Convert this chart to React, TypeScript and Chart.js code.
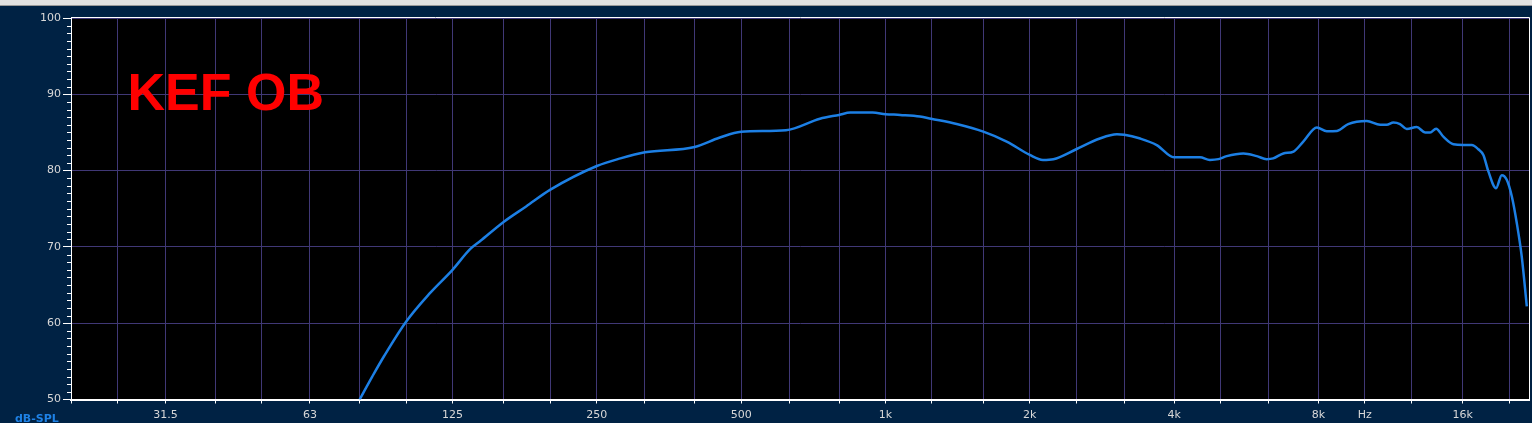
import React, { useEffect, useRef } from 'react';
import { Chart, registerables } from 'chart.js';

Chart.register(...registerables);

// Frequency response (Hz) and level (dB-SPL)
const FREQS = [
  80, 85, 90, 100, 112, 125, 136, 143, 160, 178, 200, 250, 280, 315, 400, 450, 500, 620, 730, 800,
  845, 940, 1000, 1073, 1180, 1245, 1408, 1600, 1790, 2000, 2130, 2240, 2500, 2800, 3040, 3150,
  3400, 3680, 4000, 4530, 4750, 4950, 5150, 5580, 5950, 6240, 6440, 6760, 7100, 7440, 7940,
  8330, 8750, 9230, 10090, 10760, 11110, 11470, 11840, 12230, 12830, 13360, 13680, 14080,
  14580, 15300, 16050, 16710, 17250, 17670, 18100, 18780, 19300, 19770, 20260, 20750, 21250, 21770,
];
const SPL = [
  50.0, 53.0, 55.7, 60.2, 63.9, 67.0, 69.7, 70.8, 73.3, 75.3, 77.5, 80.6, 81.6, 82.4, 83.1, 84.3, 85.1, 85.3, 86.8, 87.3,
  87.6, 87.6, 87.4, 87.3, 87.1, 86.8, 86.1, 85.1, 83.8, 82.05, 81.4, 81.5, 82.8, 84.2, 84.75, 84.7,
  84.2, 83.35, 81.75, 81.75, 81.4, 81.5, 81.9, 82.25, 81.9, 81.5, 81.6, 82.25, 82.5, 83.8, 85.65,
  85.15, 85.2, 86.1, 86.5, 86.0, 86.0, 86.3, 86.1, 85.45, 85.7, 85.0, 85.0, 85.5,
  84.45, 83.45, 83.35, 83.35, 82.8, 82.05, 79.9, 77.7, 79.4, 78.8, 76.6, 73.1, 68.7, 62.2,
];

// Axis definitions
const X_MIN = 20;
const X_MAX = 22000;
const X_GRID = [
  20, 25, 31.5, 40, 50, 63, 80, 100, 125, 160, 200, 250, 315, 400, 500, 630, 800, 1000, 1250, 1600,
  2000, 2500, 3150, 4000, 5000, 6300, 8000, 10000, 12500, 16000, 20000,
];
const X_LABEL_VALUES = [31.5, 63, 125, 250, 500, 1000, 2000, 4000, 8000, 10000, 16000];
const X_LABEL_TEXTS = ['31.5', '63', '125', '250', '500', '1k', '2k', '4k', '8k', 'Hz', '16k'];
const Y_MIN = 50;
const Y_MAX = 100;
const Y_MAJOR_STEP = 10;
const Y_MINOR_STEP = 1;
const TITLE = 'KEF OB';
const UNIT_LABEL = 'dB-SPL';

const NAVY = 'rgb(0,34,68)';
const GRID = 'rgb(64,56,118)';
const TICK_TEXT = '#d8d8d8';
const LINE = '#1c7fe4';

export default function App() {
  const ref = useRef<HTMLCanvasElement | null>(null);

  useEffect(() => {
    const canvas = ref.current;
    if (!canvas) return;

    const decor = {
      id: 'decor',
      beforeDraw(chart: any) {
        const { ctx, chartArea: a, width, height } = chart;
        ctx.save();
        ctx.fillStyle = NAVY;
        ctx.fillRect(0, 0, width, height);
        ctx.fillStyle = '#e2e2e2';
        ctx.fillRect(0, 0, width, 5);
        ctx.fillStyle = '#9a9a9a';
        ctx.fillRect(0, 5, width, 1);
        ctx.fillStyle = '#000';
        ctx.fillRect(a.left, a.top, a.right - a.left, a.bottom - a.top);
        ctx.restore();
      },
      afterDraw(chart: any) {
        const { ctx, chartArea: a } = chart;
        const ys = chart.scales.y;
        ctx.save();
        // minor ticks on y axis
        ctx.strokeStyle = '#ffffff';
        ctx.lineWidth = 1;
        ctx.beginPath();
        for (let v = Y_MIN; v <= Y_MAX; v += Y_MINOR_STEP) {
          if (v % Y_MAJOR_STEP === 0) continue;
          const py = Math.round(ys.getPixelForValue(v)) + 0.5;
          ctx.moveTo(a.left - 4, py);
          ctx.lineTo(a.left, py);
        }
        ctx.stroke();
        // frame top / right
        ctx.strokeStyle = '#ffffff';
        ctx.beginPath();
        ctx.moveTo(a.left, a.top - 0.5);
        ctx.lineTo(a.right + 0.5, a.top - 0.5);
        ctx.lineTo(a.right + 0.5, a.bottom);
        ctx.stroke();
        // title
        ctx.fillStyle = '#ff0000';
        ctx.font = 'bold 52px "Liberation Sans", Arial, sans-serif';
        ctx.textBaseline = 'alphabetic';
        ctx.textAlign = 'left';
        ctx.fillText(TITLE, 127.5, 110);
        // unit label
        ctx.fillStyle = '#1e82e6';
        ctx.font = 'bold 11px "DejaVu Sans", sans-serif';
        ctx.fillText(UNIT_LABEL, 15, 421.5);
        ctx.restore();
      },
    };

    const chart = new Chart(canvas, {
      type: 'line',
      data: {
        datasets: [
          {
            data: FREQS.map((f, i) => ({ x: f, y: SPL[i] })),
            borderColor: LINE,
            borderWidth: 2.5,
            pointRadius: 0,
            cubicInterpolationMode: 'monotone',
            fill: false,
          },
        ],
      },
      options: {
        animation: false,
        responsive: false,
        layout: { padding: { top: 18, right: 3, left: 0, bottom: 0 } },
        plugins: { legend: { display: false }, tooltip: { enabled: false }, title: { display: false } },
        scales: {
          x: {
            type: 'logarithmic',
            min: X_MIN,
            max: X_MAX,
            afterBuildTicks: (s: any) => {
              s.ticks = X_GRID.map((v) => ({ value: v }));
            },
            afterFit: (s: any) => {
              s.height = 23.5;
            },
            ticks: {
              autoSkip: false,
              maxRotation: 0,
              minRotation: 0,
              color: TICK_TEXT,
              padding: 5,
              font: { family: '"DejaVu Sans", sans-serif', size: 11 },
              callback: (v: any) => {
                const i = X_LABEL_VALUES.indexOf(Number(v));
                return i >= 0 ? X_LABEL_TEXTS[i] : '';
              },
            },
            grid: { color: GRID, tickColor: '#ffffff', tickLength: 4, lineWidth: 1 },
            border: { color: '#ffffff', width: 2 },
          },
          y: {
            type: 'linear',
            min: Y_MIN,
            max: Y_MAX,
            afterFit: (s: any) => {
              s.width = 71;
            },
            ticks: {
              stepSize: Y_MAJOR_STEP,
              color: TICK_TEXT,
              padding: 2,
              font: { family: '"DejaVu Sans", sans-serif', size: 11 },
            },
            grid: { color: GRID, tickColor: '#ffffff', tickLength: 8, lineWidth: 1 },
            border: { color: '#ffffff', width: 1 },
          },
        },
      },
      plugins: [decor],
    } as any);

    return () => chart.destroy();
  }, []);

  return (
    <div style={{ position: 'absolute', left: 0, top: 0, width: 1532, height: 423 }}>
      <canvas ref={ref} width={1532} height={423} style={{ display: 'block' }} />
    </div>
  );
}
